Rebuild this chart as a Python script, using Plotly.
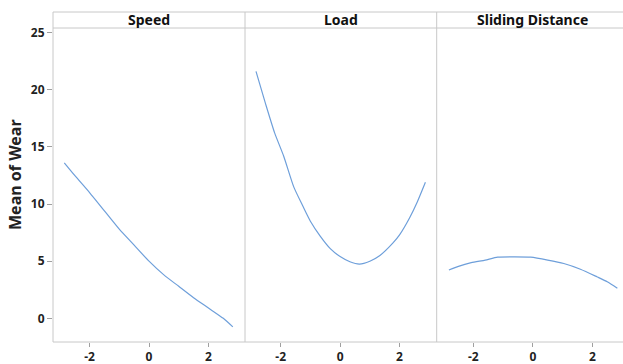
import plotly.graph_objects as go

panels = ["Speed", "Load", "Sliding Distance"]

speed_x = [-2.85, -2.5, -2.0, -1.5, -1.0, -0.5, 0.0, 0.5, 1.0, 1.5, 2.0, 2.5, 2.82]
speed_y = [13.6, 12.5, 11.0, 9.4, 7.8, 6.4, 5.0, 3.8, 2.8, 1.8, 0.9, 0.0, -0.75]

load_x = [-2.83, -2.5, -2.2, -1.9, -1.56, -1.25, -1.0, -0.67, -0.33, 0.0, 0.33, 0.65, 1.0, 1.34, 1.78, 2.0, 2.34, 2.6, 2.87]
load_y = [21.6, 18.7, 16.2, 14.2, 11.5, 9.8, 8.5, 7.2, 6.1, 5.4, 4.95, 4.75, 5.0, 5.5, 6.6, 7.3, 8.8, 10.2, 11.9]

slide_x = [-2.82, -2.5, -2.07, -1.6, -1.18, -0.6, -0.07, 0.5, 1.04, 1.6, 2.15, 2.5, 2.84]
slide_y = [4.23, 4.55, 4.87, 5.1, 5.35, 5.38, 5.35, 5.1, 4.8, 4.3, 3.64, 3.2, 2.63]

x_ticks = [-2, 0, 2]
y_ticks = [0, 5, 10, 15, 20, 25]
y_title = "Mean of Wear"

W, H = 623, 364
L, R, T, B = 53, 0, 12, 22
pw, ph = W - L - R, H - T - B
header_px = 16
ytop = (ph - header_px) / ph

sep1 = (245 - L) / pw
sep2 = (436.7 - L) / pw
domains = [[0, sep1], [sep1, sep2], [sep2, 1]]
ranges = [[-3.23, 3.23], [-3.2, 3.25], [-3.23, 3.03]]

line_color = "#6E9FDA"
grid_color = "#C8C8C8"
font_fam = "Noto Sans, DejaVu Sans, sans-serif"

fig = go.Figure()
series = [(speed_x, speed_y), (load_x, load_y), (slide_x, slide_y)]
for i, (xs, ys) in enumerate(series):
    fig.add_trace(go.Scatter(
        x=xs, y=ys, mode="lines", line=dict(color=line_color, width=1.2, shape="spline", smoothing=0.6),
        xaxis="x" if i == 0 else f"x{i+1}", yaxis="y", showlegend=False, hoverinfo="skip"))

layout = dict(
    width=W, height=H,
    margin=dict(l=L, r=R, t=T, b=B),
    paper_bgcolor="white", plot_bgcolor="white",
    font=dict(family=font_fam, color="#222222"),
    yaxis=dict(domain=[0, ytop], range=[-2.07, 25.4], tickvals=y_ticks,
               showgrid=False, zeroline=False, showline=False,
               ticks="outside", ticklen=5, tickcolor="#A0A0A0", tickwidth=1,
               tickfont=dict(size=12, family=font_fam, color="#222222", weight="bold")),
)
for i in range(3):
    key = "xaxis" if i == 0 else f"xaxis{i+1}"
    layout[key] = dict(domain=domains[i], range=ranges[i], anchor="y", tickvals=x_ticks,
                       ticktext=[str(v) for v in x_ticks],
                       showgrid=False, zeroline=False, showline=False,
                       ticks="outside", ticklen=4, tickcolor="#A0A0A0", tickwidth=1,
                       tickfont=dict(size=12, family=font_fam, color="#222222", weight="bold"))
fig.update_layout(**layout)

shapes = []
lw = dict(color=grid_color, width=1)
shapes.append(dict(type="line", xref="paper", yref="paper", x0=0, x1=1, y0=1, y1=1, line=lw))
shapes.append(dict(type="line", xref="paper", yref="paper", x0=0, x1=1, y0=ytop, y1=ytop, line=lw))
shapes.append(dict(type="line", xref="paper", yref="paper", x0=0, x1=1, y0=0, y1=0, line=lw))
for xv in [0, sep1, sep2]:
    shapes.append(dict(type="line", xref="paper", yref="paper", x0=xv, x1=xv, y0=0, y1=1, line=lw))
fig.update_layout(shapes=shapes)

centers = [(domains[0][0] + domains[0][1]) / 2, (domains[1][0] + domains[1][1]) / 2, sep2 + (sep2 - sep1) / 2]
annotations = []
for i, name in enumerate(panels):
    annotations.append(dict(text=f"<b>{name}</b>", xref="paper", yref="paper",
                            x=centers[i], y=(1 + ytop) / 2, xanchor="center", yanchor="middle", showarrow=False,
                            font=dict(size=14, family=font_fam, color="#111111")))
annotations.append(dict(text=f"<b>{y_title}</b>", xref="paper", yref="paper",
                        x=(15 - L) / pw, y=(342 - 175) / ph, xanchor="center", yanchor="middle",
                        textangle=-90, showarrow=False,
                        font=dict(size=16, family=font_fam, color="#222222")))
fig.update_layout(annotations=annotations)

fig.write_html("out.html", config={"displayModeBar": False},
               post_script="document.body.style.margin='0px';document.body.style.overflow='hidden';")
